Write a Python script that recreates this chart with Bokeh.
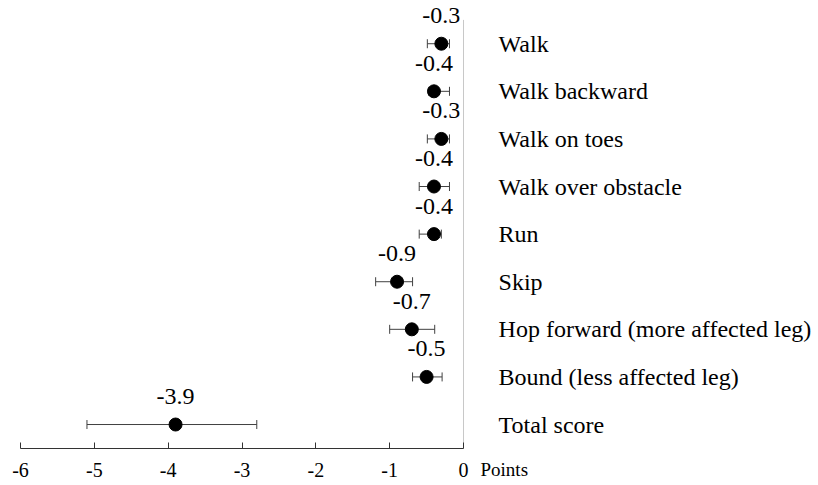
from bokeh.plotting import figure
from bokeh.models import ColumnDataSource, Whisker, TeeHead, FixedTicker, Range1d
from bokeh.embed import file_html
from bokeh.resources import INLINE

categories = ["Walk", "Walk backward", "Walk on toes", "Walk over obstacle", "Run",
              "Skip", "Hop forward (more affected leg)", "Bound (less affected leg)", "Total score"]
means = [-0.3, -0.4, -0.3, -0.4, -0.4, -0.9, -0.7, -0.5, -3.9]
lower = [-0.49, -0.47, -0.49, -0.6, -0.6, -1.19, -1.0, -0.69, -5.1]
upper = [-0.19, -0.19, -0.19, -0.19, -0.3, -0.69, -0.39, -0.29, -2.8]
mean_labels = ["-0.3", "-0.4", "-0.3", "-0.4", "-0.4", "-0.9", "-0.7", "-0.5", "-3.9"]
x_ticks = [-6, -5, -4, -3, -2, -1, 0]
x_tick_labels = ["-6", "-5", "-4", "-3", "-2", "-1", "0"]
unit_label = ["Points"]

FONT = "Liberation Serif"
AXIS_Y = -0.504
TICK_LABEL_Y = AXIS_Y - 21 / 47.6

n = len(categories)
ypos = [n - 1 - i for i in range(n)]
label_y = [y + 0.59 for y in ypos]

src = ColumnDataSource(dict(cat=categories, mean=means, lower=lower, upper=upper,
                            y=ypos, ly=label_y, mlab=mean_labels, fnt=[FONT] * n,
                            cx=[0.475] * n))
tick_src = ColumnDataSource(dict(x=x_ticks, y=[TICK_LABEL_Y] * len(x_ticks), t=x_tick_labels,
                                 fnt=[FONT] * len(x_ticks)))
unit_src = ColumnDataSource(dict(x=[0], y=[TICK_LABEL_Y], t=unit_label, fnt=[FONT]))

p = figure(width=818, height=485, output_backend="svg", toolbar_location=None,
           x_range=Range1d(-6.271, 4.808), y_range=Range1d(-1.281, 8.908),
           min_border_left=0, min_border_right=0, min_border_top=0, min_border_bottom=0)
p.outline_line_color = None
p.xgrid.visible = False
p.ygrid.visible = False
p.yaxis.visible = False

# vertical zero line
p.segment(x0=[0], y0=[AXIS_Y], x1=[0], y1=[8.5], line_color="#c8c8c8", line_width=1)

w = Whisker(source=src, base="y", lower="lower", upper="upper", dimension="width",
            line_color="#404040", line_width=1,
            lower_head=TeeHead(size=9, line_color="#404040", line_width=1),
            upper_head=TeeHead(size=9, line_color="#404040", line_width=1))
p.add_layout(w)

p.scatter(x="mean", y="y", source=src, size=13, color="black")

p.text(x="mean", y="ly", text="mlab", source=src, text_align="center",
       text_baseline="middle", text_font="fnt", text_font_size="24px", text_color="black")

p.text(x="cx", y="y", text="cat", source=src, text_align="left",
       text_baseline="middle", text_font="fnt", text_font_size="24px", text_color="black")

p.xaxis.fixed_location = AXIS_Y
p.xaxis.ticker = FixedTicker(ticks=x_ticks)
p.xaxis.major_label_overrides = {t: "" for t in x_ticks}
p.xaxis.bounds = (-6, 0)
p.xaxis.major_tick_in = 6
p.xaxis.major_tick_out = 0
p.xaxis.minor_tick_in = 0
p.xaxis.minor_tick_out = 0
p.xaxis.axis_line_color = "#333333"
p.xaxis.major_tick_line_color = "#333333"

# tick labels, placed on the axis ticks through the x scale
p.text(x="x", y="y", text="t", source=tick_src, text_align="center",
       text_baseline="middle", text_font="fnt", text_font_size="20px", text_color="black")

p.text(x="x", y="y", text="t", source=unit_src, x_offset=17, text_align="left",
       text_baseline="middle", text_font="fnt", text_font_size="19px", text_color="black")

open("out.html", "w").write(file_html(p, INLINE))
